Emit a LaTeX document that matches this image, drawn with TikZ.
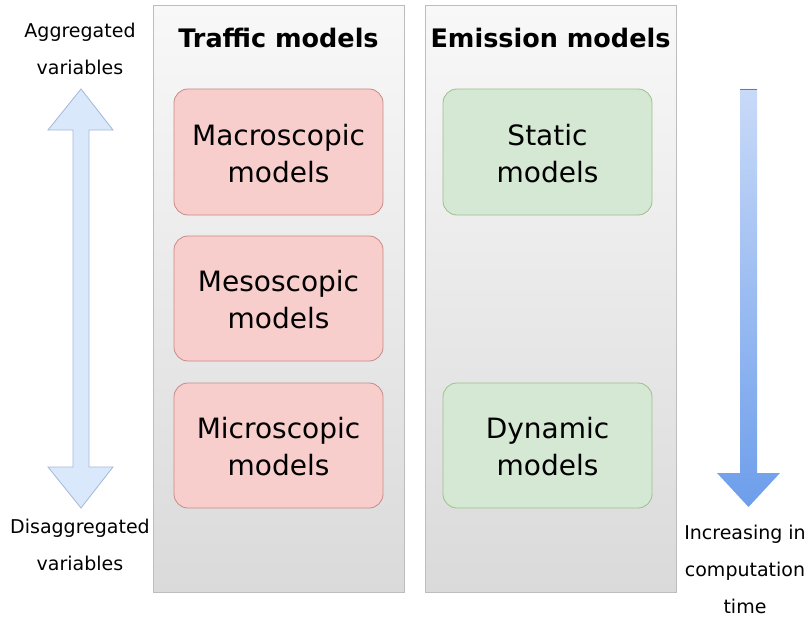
\documentclass[tikz,border=0pt]{standalone}
\usepackage{fontspec}
\setmainfont{DejaVu Sans}
\usetikzlibrary{shapes.geometric}
\definecolor{panelline}{HTML}{BDBDBD}
\definecolor{paneltop}{HTML}{F8F8F8}
\definecolor{panelbot}{HTML}{DADADA}
\definecolor{redfill}{HTML}{F8CECC}
\definecolor{redline}{HTML}{C98A87}
\definecolor{greenfill}{HTML}{D5E8D4}
\definecolor{greenline}{HTML}{9CC08C}
\definecolor{bluefill}{HTML}{DAE8FC}
\definecolor{blueline}{HTML}{A3B8D6}
\definecolor{bluetop}{HTML}{C9DAF8}
\definecolor{bluebot}{HTML}{6D9EEB}
\tikzset{
  panel/.style={draw=panelline, line width=1pt, top color=paneltop, bottom color=panelbot},
  redbox/.style={draw=redline, fill=redfill, rounded corners=14pt, line width=0.8pt},
  greenbox/.style={draw=greenline, fill=greenfill, rounded corners=14pt, line width=0.8pt},
  boxtext/.style={align=center, font=\fontsize{28}{37}\selectfont},
  title/.style={font=\fontsize{25.5}{30}\selectfont\bfseries},
  side/.style={align=center, font=\fontsize{19}{37}\selectfont},
}
\begin{document}
\begin{tikzpicture}[x=1pt,y=-1pt]
\useasboundingbox (0,0) rectangle (809,618);
% panels
\draw[panel] (153,6) rectangle (404,592);
\draw[panel] (425,6) rectangle (676,592);
\node[title] (t1) at (278.5,38) {Traffic models};
\node[title] (t2) at (550.5,38) {Emission models};
% boxes
\draw[redbox] (174,89) rectangle (383,215);
\node[boxtext] (macro) at (278.5,154) {Macroscopic\\models};
\draw[redbox] (174,236) rectangle (383,361);
\node[boxtext] (meso) at (278.5,300) {Mesoscopic\\models};
\draw[redbox] (174,383) rectangle (383,508);
\node[boxtext] (micro) at (278.5,447) {Microscopic\\models};
\draw[greenbox] (443,89) rectangle (652,215);
\node[boxtext] (static) at (547.5,154) {Static\\models};
\draw[greenbox] (443,383) rectangle (652,508);
\node[boxtext] (dyn) at (547.5,447) {Dynamic\\models};
% left double arrow
\draw[draw=blueline, fill=bluefill, line width=0.8pt, line join=miter]
  (81,89) -- (113,130) -- (89,130) -- (89,467) -- (113,467) -- (81,508)
  -- (48,467) -- (73,467) -- (73,130) -- (48,130) -- cycle;
% right arrow
\shade[top color=bluetop, bottom color=bluebot]
  (740,89) -- (757,89) -- (757,473) -- (780,473) -- (748.5,507) -- (717,473) -- (740,473) -- cycle;
\draw[draw=bluebot!80!black, line width=0.6pt] (740,89) -- (757,89);
% side labels
\node[side] (agg) at (80,49) {Aggregated\\variables};
\node[side] (dis) at (80,545) {Disaggregated\\variables};
\node[side] (inc) at (745,569) {Increasing in\\computation\\time};
\end{tikzpicture}
\end{document}
